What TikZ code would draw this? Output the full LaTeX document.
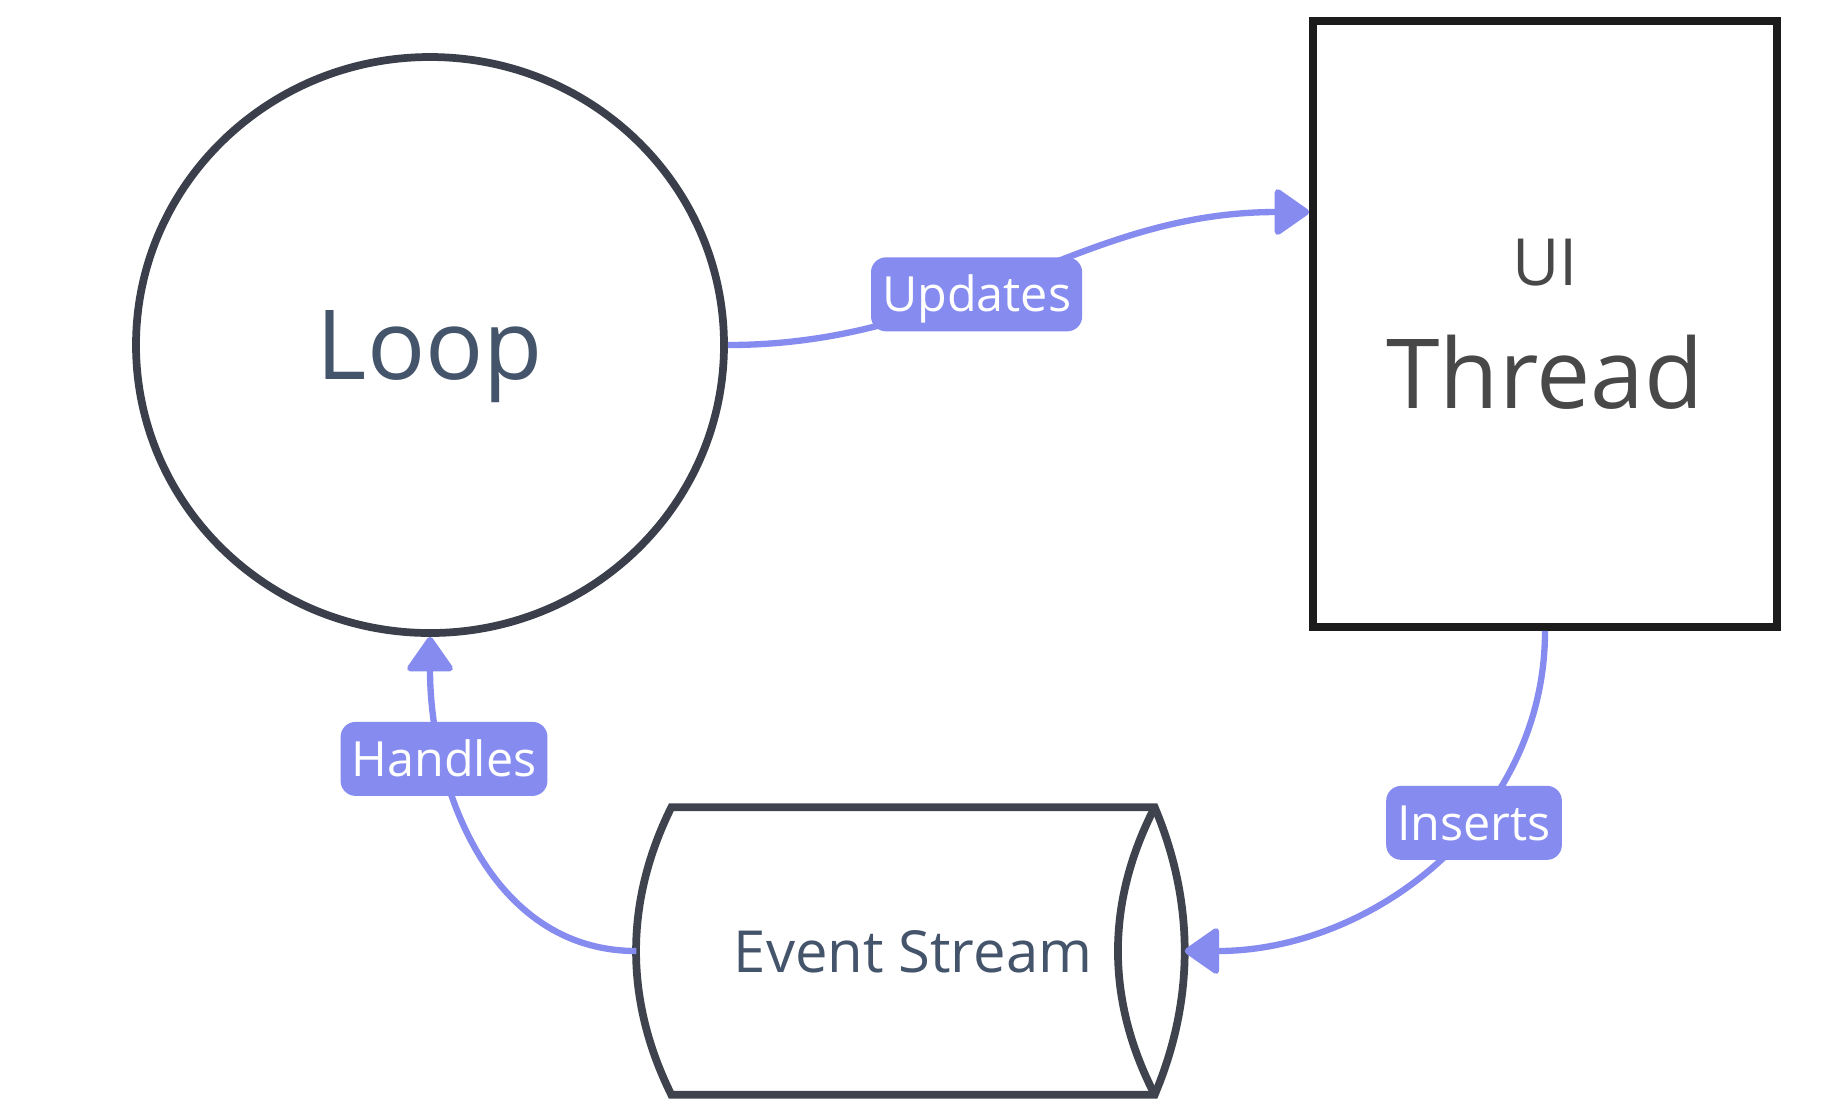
\documentclass[tikz,border=0pt]{standalone}
\usepackage{fontspec}
\setmainfont{Open Sans}
\usetikzlibrary{arrows.meta,shapes.geometric,calc}

\newcommand{\shapefont}{\fontsize{27.5pt}{35pt}\selectfont}
\newcommand{\uifont}{\fontsize{18.5pt}{22pt}\selectfont}
\newcommand{\streamfont}{\fontsize{16.5pt}{20pt}\selectfont}
\newcommand{\edgefont}{\fontsize{13.8pt}{16pt}\selectfont}

\begin{document}
\begin{tikzpicture}[x=0.1mm, y=-0.1mm]

	\def\bulgeleft{47}
	\def\bulgeout{40}
	\def\bulgein{49}
	\def\third{95}

	% Colours
	\definecolor{edgecolor}{HTML}{868BF0}
	\definecolor{loopcolor}{HTML}{44546A}
	\definecolor{loopline}{HTML}{3A3F4B}
	\definecolor{threadcolor}{HTML}{484848}
	\definecolor{threadline}{HTML}{1C1C1C}
	\definecolor{streamline}{HTML}{3E434D}

	% Styles
	\tikzstyle{shapeline}=[line width=2.2pt]
	\tikzstyle{edgeline}=[line width=1.8pt, draw=edgecolor, -{Triangle[length=3.7mm, width=5mm, round]}]
	\tikzstyle{edgelabel}=[fill=edgecolor, text=white, font=\edgefont, rounded corners=1.5mm,
		inner xsep=1.1mm, text height=9.8pt, text depth=0pt, minimum height=7.4mm]

	\path[use as bounding box, fill=white] (0,0) rectangle (1841,1109);

	% Shapes
	\node[shapeline, draw=loopline, ellipse, minimum width=58.8mm, minimum height=57.6mm,
		text=loopcolor, font=\shapefont, text depth=0pt] (loop) at (430,345) {Loop};
	\node[shapeline, draw=threadline, rectangle, minimum width=46.4mm, minimum height=60.6mm,
		text=threadcolor, font=\shapefont, align=center] (thread) at (1545,324) {{\uifont UI}\\Thread};
	\node[text=loopcolor, font=\streamfont, minimum width=48.2mm, minimum height=28.6mm,
		text depth=0pt] (stream) at (913,951) {Event Stream};

	% Event stream outline
	\draw[shapeline, draw=streamline] (stream.north west)
		.. controls +(-\bulgeleft,\third) and +(-\bulgeleft,-\third) .. (stream.south west)
		-- (stream.south east)
		.. controls +(\bulgeout,-\third) and +(\bulgeout,\third) .. (stream.north east) -- cycle;
	\draw[shapeline, draw=streamline] (stream.north east)
		.. controls +(-\bulgein,\third) and +(-\bulgein,-\third) .. (stream.south east);

	\coordinate (streamleft) at ([xshift=-3.5mm]stream.west);
	\coordinate (streamright) at ([xshift=3mm]stream.east);
	\coordinate (threadleft) at ([yshift=11.2mm]thread.west);

	% Edges
	\draw[edgeline] (loop.east) to[out=0, in=180]
		node[edgelabel, pos=0.42] (updates) {Updates} (threadleft);
	\draw[edgeline] (thread.south) to[out=-90, in=0]
		node[edgelabel, pos=0.395] (inserts) {Inserts} (streamright);
	\draw[edgeline] (streamleft) to[out=180, in=-90]
		node[edgelabel, pos=0.725] (handles) {Handles} (loop.south);

\end{tikzpicture}
\end{document}
